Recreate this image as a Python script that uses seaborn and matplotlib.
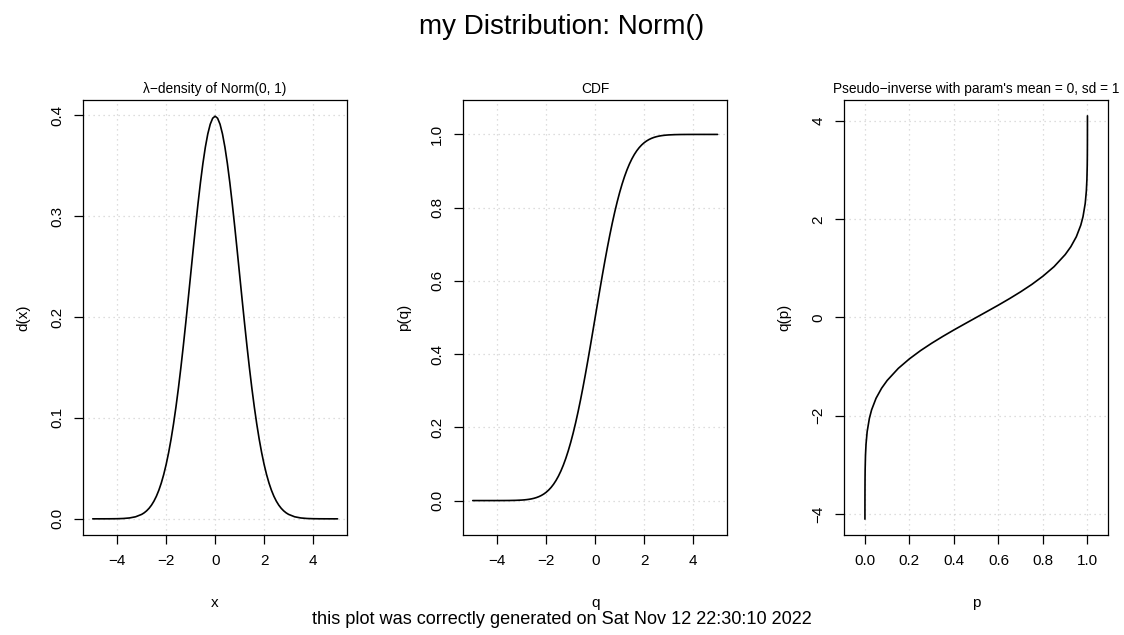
import seaborn as sns
import matplotlib.pyplot as plt
#------------------------------

#density values of Norm(0,1)
pdf_x = [-5.0, -4.75, -4.5, -4.25, -4.0, -3.75, -3.5, -3.25,
         -3.0, -2.9, -2.8, -2.7, -2.6, -2.5, -2.4, -2.3, -2.2, -2.1,
         -2.0, -1.9, -1.8, -1.7, -1.6, -1.5, -1.4, -1.3, -1.2, -1.1,
         -1.0, -0.9, -0.8, -0.7, -0.6, -0.5, -0.4, -0.3, -0.2, -0.1,
         0.0, 0.1, 0.2, 0.3, 0.4, 0.5, 0.6, 0.7, 0.8, 0.9,
         1.0, 1.1, 1.2, 1.3, 1.4, 1.5, 1.6, 1.7, 1.8, 1.9,
         2.0, 2.1, 2.2, 2.3, 2.4, 2.5, 2.6, 2.7, 2.8, 2.9, 3.0,
         3.25, 3.5, 3.75, 4.0, 4.25, 4.5, 4.75, 5.0]
pdf_y = [0.0, 0.00001, 0.00002, 0.00005, 0.00013, 0.00035, 0.00087, 0.00203,
         0.00443, 0.00595, 0.00792, 0.01042, 0.01358, 0.01753, 0.02239, 0.02833, 0.03547, 0.04398,
         0.05399, 0.06562, 0.07895, 0.09405, 0.11092, 0.12952, 0.14973, 0.17137, 0.19419, 0.21785,
         0.24197, 0.26609, 0.28969, 0.31225, 0.33322, 0.35207, 0.36827, 0.38139, 0.39104, 0.39695,
         0.39894, 0.39695, 0.39104, 0.38139, 0.36827, 0.35207, 0.33322, 0.31225, 0.28969, 0.26609,
         0.24197, 0.21785, 0.19419, 0.17137, 0.14973, 0.12952, 0.11092, 0.09405, 0.07895, 0.06562,
         0.05399, 0.04398, 0.03547, 0.02833, 0.02239, 0.01753, 0.01358, 0.01042, 0.00792, 0.00595, 0.00443,
         0.00203, 0.00087, 0.00035, 0.00013, 0.00005, 0.00002, 0.00001, 0.0]

#cdf values
cdf_x = pdf_x
cdf_y = [0.0, 0.0, 0.0, 0.00001, 0.00003, 0.00009, 0.00023, 0.00058,
         0.00135, 0.00187, 0.00256, 0.00347, 0.00466, 0.00621, 0.00820, 0.01072, 0.01390, 0.01786,
         0.02275, 0.02872, 0.03593, 0.04457, 0.05480, 0.06681, 0.08076, 0.09680, 0.11507, 0.13567,
         0.15866, 0.18406, 0.21186, 0.24196, 0.27425, 0.30854, 0.34458, 0.38209, 0.42074, 0.46017,
         0.5, 0.53983, 0.57926, 0.61791, 0.65542, 0.69146, 0.72575, 0.75804, 0.78814, 0.81594,
         0.84134, 0.86433, 0.88493, 0.90320, 0.91924, 0.93319, 0.94520, 0.95543, 0.96407, 0.97128,
         0.97725, 0.98214, 0.98610, 0.98928, 0.99180, 0.99379, 0.99534, 0.99653, 0.99744, 0.99813, 0.99865,
         0.99942, 0.99977, 0.99991, 0.99997, 0.99999, 1.0, 1.0, 1.0]

#quantile values
q_p = [0.00002, 0.00005, 0.0001, 0.0002, 0.0005, 0.001, 0.0025, 0.005, 0.01, 0.02, 0.03, 0.05, 0.075, 0.1,
       0.15, 0.2, 0.25, 0.3, 0.35, 0.4, 0.45, 0.5, 0.55, 0.6, 0.65, 0.7, 0.75, 0.8, 0.85,
       0.9, 0.925, 0.95, 0.97, 0.98, 0.99, 0.995, 0.9975, 0.999, 0.9995, 0.9998, 0.9999, 0.99995, 0.99998]
q_y = [-4.107, -3.891, -3.719, -3.540, -3.291, -3.090, -2.807, -2.576, -2.326, -2.054, -1.881, -1.645, -1.440, -1.282,
       -1.036, -0.842, -0.674, -0.524, -0.385, -0.253, -0.126, 0.0, 0.126, 0.253, 0.385, 0.524, 0.674, 0.842, 1.036,
       1.282, 1.440, 1.645, 1.881, 2.054, 2.326, 2.576, 2.807, 3.090, 3.291, 3.540, 3.719, 3.891, 4.107]

#text
main_title = "my Distribution: Norm()"
sub_titles = ["\u03bb\u2212density of Norm(0, 1)", "CDF", "Pseudo\u2212inverse with param's mean = 0, sd = 1"]
x_labels = ["x", "q", "p"]
y_labels = ["d(x)", "p(q)", "q(p)"]
footer = "this plot was correctly generated on Sat Nov 12 22:30:10 2022"

x_ticks = [[-4, -2, 0, 2, 4], [-4, -2, 0, 2, 4], [0.0, 0.2, 0.4, 0.6, 0.8, 1.0]]
y_ticks = [[0.0, 0.1, 0.2, 0.3, 0.4], [0.0, 0.2, 0.4, 0.6, 0.8, 1.0], [-4, -2, 0, 2, 4]]
x_lims = [(-5.4, 5.4), (-5.4, 5.4), (-0.094, 1.094)]
y_lims = [(-0.016, 0.415), (-0.094, 1.094), (-4.43, 4.43)]

#style
sns.set_theme(style="ticks")
plt.rcParams['font.family'] = ['Liberation Sans', 'DejaVu Sans']
plt.rcParams['text.color'] = "black"
plt.rcParams['axes.labelcolor'] = "black"

fig = plt.figure(figsize=(11.24, 6.35), dpi=100)
lefts = [0.0738, 0.4119, 0.7509]
axes = [fig.add_axes([l, 0.1575, 0.2352, 0.685]) for l in lefts]

#curves
sns.lineplot(x=pdf_x, y=pdf_y, ax=axes[0], color="black", linewidth=1.2, sort=False, estimator=None)
sns.lineplot(x=cdf_x, y=cdf_y, ax=axes[1], color="black", linewidth=1.2, sort=False, estimator=None)
sns.lineplot(x=q_p, y=q_y, ax=axes[2], color="black", linewidth=1.2, sort=False, estimator=None)

def fmt(v, dec):
    s = ("%." + str(dec) + "f") % v
    return s.replace("-", "\u2212")

x_dec = [0, 0, 1]
y_dec = [1, 1, 0]

for i, ax in enumerate(axes):
    ax.set_xlim(x_lims[i])
    ax.set_ylim(y_lims[i])
    ax.set_xticks(x_ticks[i])
    ax.set_yticks(y_ticks[i])
    ax.set_xticklabels([fmt(v, x_dec[i]) for v in x_ticks[i]], fontsize=11)
    ax.set_yticklabels([fmt(v, y_dec[i]) for v in y_ticks[i]], fontsize=11, rotation=90, va="center")
    ax.grid(True, color="#d3d3d3", linestyle=(0, (1, 3)), linewidth=0.9)
    ax.set_axisbelow(True)
    for sp in ax.spines.values():
        sp.set_visible(True)
        sp.set_linewidth(0.9)
        sp.set_color("black")
    ax.tick_params(axis="both", length=6.5, width=0.9, color="black", pad=7, labelcolor="black")
    ax.set_xlabel(x_labels[i], fontsize=11, labelpad=20)
    ax.set_ylabel(y_labels[i], fontsize=11, labelpad=14)
    ax.set_title(sub_titles[i], fontsize=9.9, pad=5)

fig.text(0.5, 0.957, main_title, ha="center", va="center", fontsize=20)
fig.text(0.5, 0.024, footer, ha="center", va="center", fontsize=13.1)

plt.savefig("out.png", dpi=100)
